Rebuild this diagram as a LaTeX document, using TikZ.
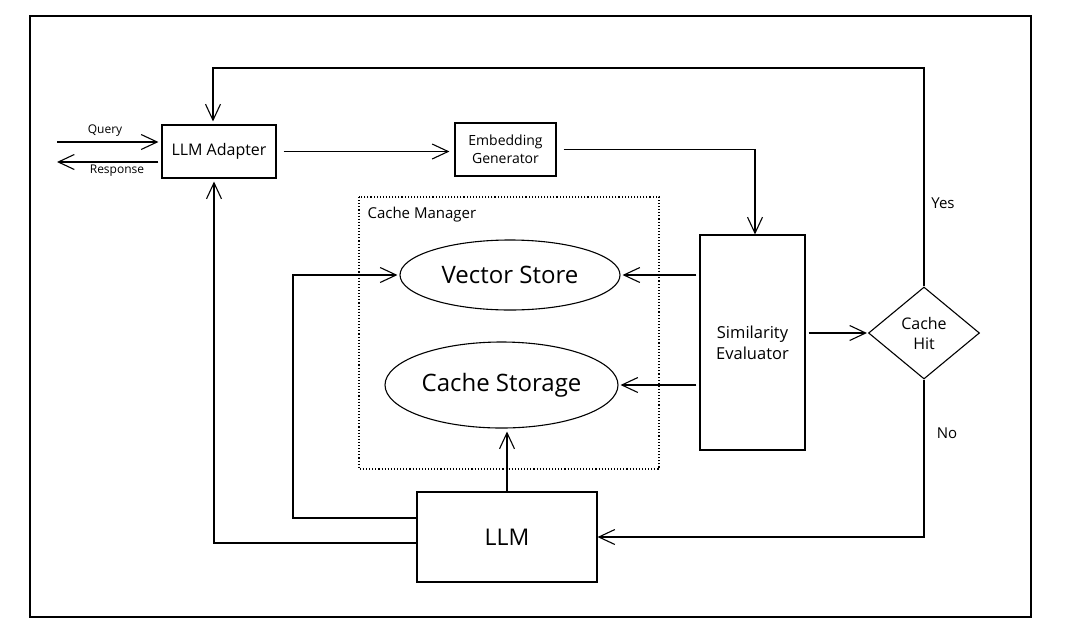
\documentclass[tikz,border=0pt]{standalone}
\usepackage{fontspec}
\setmainfont{Open Sans}
\usetikzlibrary{arrows.meta,shapes.geometric,calc}
\begin{document}
\begin{tikzpicture}[x=1pt,y=-1pt,
  line width=1.1pt,
  every node/.style={inner sep=0pt, align=center},
  box/.style={draw, rectangle},
  oval/.style={draw, ellipse},
  arr/.style={-{Straight Barb[length=16pt,width=15pt,line width=1.1pt]}},
  small/.style={font=\fontsize{12}{14}\selectfont},
  mid/.style={font=\fontsize{14}{18}\selectfont},
  label/.style={font=\fontsize{15}{19}\selectfont},
  big/.style={font=\fontsize{16}{19}\selectfont},
  huge/.style={font=\fontsize{24}{28}\selectfont},
]
\useasboundingbox (0,0) rectangle (1070,638);
% outer frame
\draw[line width=2.5pt] (30,16) rectangle (1031,617);

% cache manager group
\draw[dotted, line width=1.1pt] (359,197) rectangle (659,469);
\node[label, anchor=west] (cmlabel) at (367,215) {Cache Manager};

% components
\node[box, big, minimum width=114pt, minimum height=53pt] (adapter) at (219,151.5) {LLM Adapter};
\node[box, mid, minimum width=101pt, minimum height=53pt] (embed) at (505.5,149.5) {Embedding\\Generator};
\node[box, font=\fontsize{16.5}{21}\selectfont, minimum width=105pt, minimum height=215pt] (sim) at (752.5,342.5) {Similarity\\Evaluator};
\node[draw, diamond, font=\fontsize{16}{20}\selectfont, minimum width=111pt, minimum height=92pt] (hit) at (924,333) {Cache\\Hit};
\node[box, font=\fontsize{23}{27}\selectfont, minimum width=180pt, minimum height=90pt] (llm) at (507,537) {LLM};
\node[oval, huge, minimum width=220pt, minimum height=70pt] (vs) at (510,275) {Vector Store};
\node[oval, huge, minimum width=233pt, minimum height=86pt] (cs) at (501.5,385) {Cache Storage};

% free ends and bends
\coordinate (qin) at (57,142);
\coordinate (rout) at (57,162);
\coordinate (looptop) at (213,68);
\coordinate (lleft) at (214,543);
\coordinate (vleft) at (293,518);

% query / response
\draw[arr, shorten >=3pt] (qin) -- (adapter.west |- qin);
\draw[arr, shorten <=3pt] (adapter.west |- rout) -- (rout);
\node[small] (qlabel) at (105,131) {Query};
\node[small] (rlabel) at (117,171) {Response};

% main flow
\draw[arr, shorten <=7pt, shorten >=5pt] (adapter.east) -- (adapter.east -| embed.west);
\draw[arr, shorten <=7pt] (embed.east) -| ([xshift=2.5pt]sim.north);
\draw[arr, shorten <=3pt, shorten >=2pt] (sim.west |- vs.east) -- (vs.east);
\draw[arr, shorten <=3pt, shorten >=2pt] (sim.west |- cs.east) -- (cs.east);
\draw[arr, shorten <=3pt, shorten >=1pt] (sim.east |- hit.west) -- (hit.west);

% cache hit branches
\draw[arr, shorten >=3pt] (hit.north) |- (looptop) -- (looptop |- adapter.north);
\draw[arr] (hit.south) |- (llm.east);
\node[label] (yes) at (943,203) {Yes};
\node[label] (no) at (947,433) {No};

% LLM outputs
\draw[arr, shorten >=3pt] (llm.west |- lleft) -- (lleft) -- (lleft |- adapter.south);
\draw[arr, shorten >=2pt] (llm.west |- vleft) -- (vleft) |- (vs.west);
\draw[arr, shorten >=3pt] (llm.north) -- (llm.north |- cs.south);
\end{tikzpicture}
\end{document}
